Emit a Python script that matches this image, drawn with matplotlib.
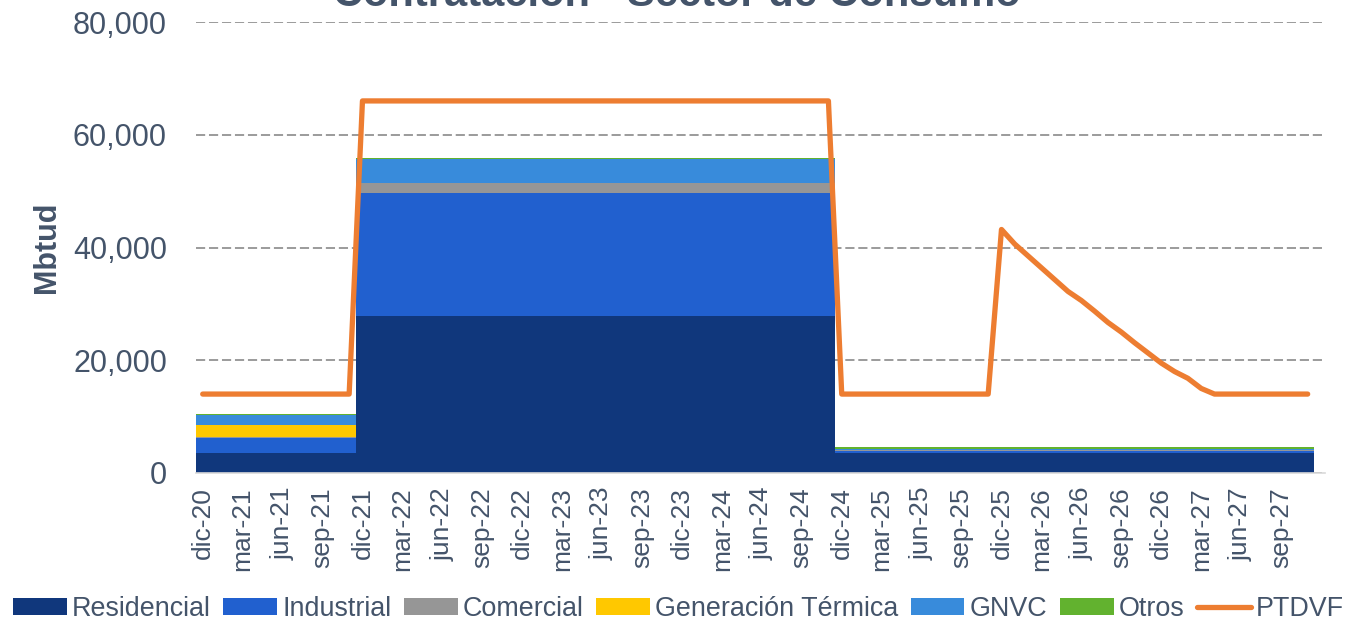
import numpy as np
import matplotlib
matplotlib.use("Agg")
import matplotlib.pyplot as plt
from matplotlib.lines import Line2D
from matplotlib.patches import Patch

plt.rcParams['font.family'] = ['Liberation Sans', 'DejaVu Sans']

# datos mensuales dic-20 .. nov-27 (84 meses)
residencial = [3500] * 12 + [27800] * 36 + [3600] * 36
industrial = [2650] * 12 + [21900] * 36 + [350] * 36
comercial = [300] * 12 + [1800] * 36 + [60] * 36
gen_termica = [2050] * 12 + [0] * 36 + [0] * 36
gnvc = [1700] * 12 + [4200] * 36 + [250] * 36
otros = [250] * 12 + [250] * 36 + [300] * 36

ptdvf = ([14000] * 12 + [66000] * 36 + [14000] * 12 +
         [43200, 40600, 38500, 36400, 34300, 32200, 30600, 28700,
          26700, 25000, 23100, 21300, 19500, 18000, 16800, 15000] +
         [14000] * 8)

tick_labels = ['dic-20', 'mar-21', 'jun-21', 'sep-21', 'dic-21', 'mar-22', 'jun-22',
               'sep-22', 'dic-22', 'mar-23', 'jun-23', 'sep-23', 'dic-23', 'mar-24',
               'jun-24', 'sep-24', 'dic-24', 'mar-25', 'jun-25', 'sep-25', 'dic-25',
               'mar-26', 'jun-26', 'sep-26', 'dic-26', 'mar-27', 'jun-27', 'sep-27']

series = [
    ('Residencial', residencial, '#10377C'),
    ('Industrial', industrial, '#2160CF'),
    ('Comercial', comercial, '#969696'),
    ('Generación Térmica', gen_termica, '#FFC800'),
    ('GNVC', gnvc, '#388BDB'),
    ('Otros', otros, '#62B22F'),
]
txt = '#44546A'

x = np.arange(len(residencial))
# bordes de cada mes (columna de ancho 1)
xe = np.column_stack([x - 0.5, x + 0.5]).ravel()

fig = plt.figure(figsize=(13.53, 6.25), dpi=100)
ax = fig.add_axes([0.1449, 0.2432, 0.8344, 0.7216])

# areas apiladas en escalon
bottom = np.zeros(len(x))
for name, vals, col in series:
    vals = np.array(vals, dtype=float)
    top = bottom + vals
    ax.fill_between(xe, np.repeat(bottom, 2), np.repeat(top, 2), color=col,
                    linewidth=0, zorder=2)
    bottom = top

ax.plot(x, ptdvf, color='#ED7D31', lw=3.8, solid_joinstyle='round',
        solid_capstyle='round', zorder=3)

ax.set_xlim(-0.5, 84.3)
ax.set_ylim(0, 80000)
ax.set_yticks([0, 20000, 40000, 60000, 80000])
ax.set_yticklabels(['0', '20,000', '40,000', '60,000', '80,000'])
ax.set_xticks(x[::3][:len(tick_labels)])
ax.set_xticklabels(tick_labels, rotation=90)

ax.tick_params(axis='y', length=0, pad=21, labelsize=22, labelcolor=txt)
ax.tick_params(axis='x', length=0, pad=10, labelsize=19, labelcolor=txt)

for s in ['top', 'right', 'left']:
    ax.spines[s].set_visible(False)
ax.spines['bottom'].set_color('#D9D9D9')
ax.spines['bottom'].set_linewidth(1.2)

ax.yaxis.grid(True, color='#808080', linestyle=(0, (6, 2.5)), linewidth=1.1, zorder=0)
ax.set_axisbelow(True)

ax.set_ylabel('Mbtud', fontsize=22, fontweight='bold', color=txt)
ax.yaxis.set_label_coords(-0.119, 0.5)

fig.text(0.50, 0.990, 'Contratación - Sector de Consumo', ha='center', va='baseline',
         fontsize=30, fontweight='bold', color=txt)

handles = [Patch(facecolor=col, edgecolor='none') for _, _, col in series]
handles.append(Line2D([0], [0], color='#ED7D31', lw=3.8, solid_capstyle='round'))
labels = [n for n, _, _ in series] + ['PTDVF']
fig.legend(handles, labels, loc='center', bbox_to_anchor=(0.5015, 0.025), ncol=7,
           frameon=False, fontsize=19.4, labelcolor=txt, handlelength=2.0,
           handleheight=0.6, handletextpad=0.2, columnspacing=0.45,
           borderpad=0, borderaxespad=0)

fig.savefig('out.png', dpi=100)
